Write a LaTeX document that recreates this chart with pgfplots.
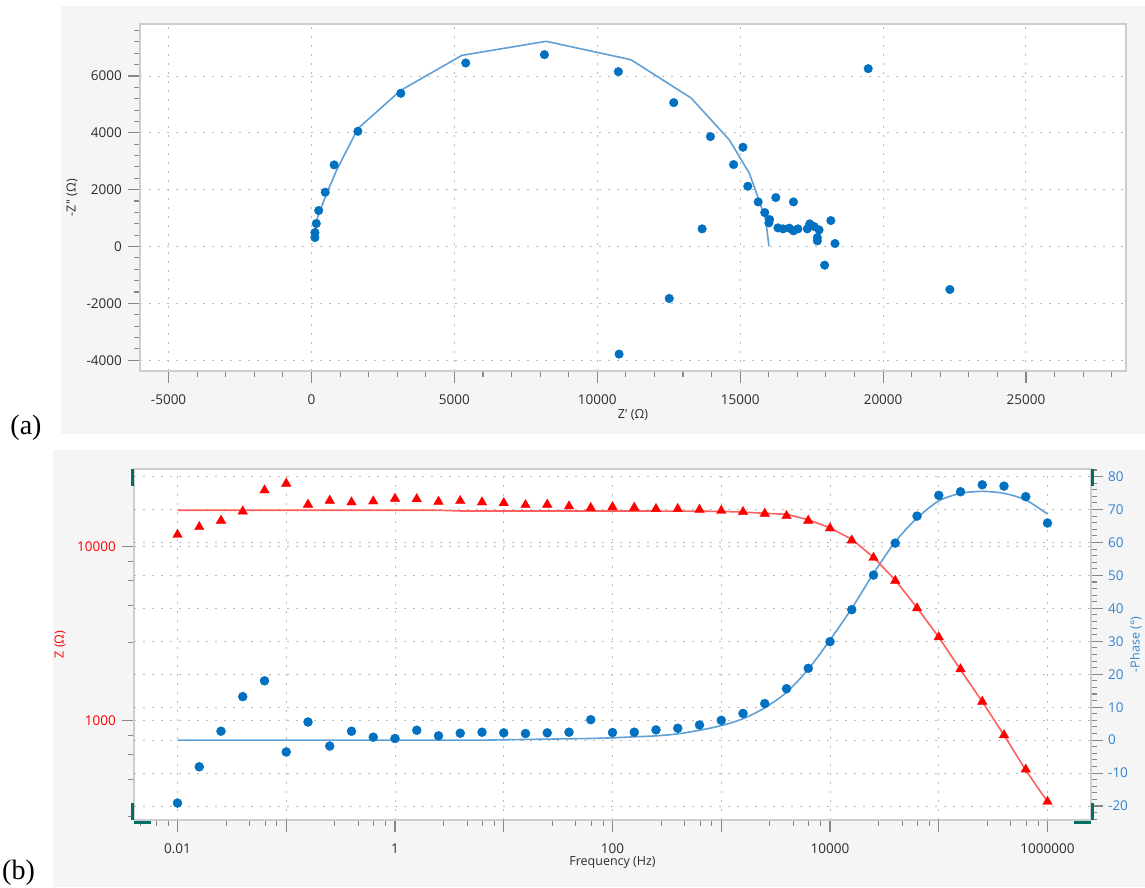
\documentclass[border=0pt]{standalone}
\usepackage{fontspec}
\setmainfont{Open Sans}
\newfontfamily\seriffont{Liberation Serif}
\usepackage{pgfplots}
\usepackage{pgfplotstable}
\pgfplotsset{compat=1.18}
\definecolor{bgGray}{RGB}{245,245,245}
\definecolor{frameGray}{RGB}{205,205,205}
\definecolor{tickGray}{RGB}{135,135,135}
\definecolor{gridGray}{RGB}{185,185,185}
\definecolor{txt}{RGB}{45,45,45}
\definecolor{ptBlue}{RGB}{0,112,192}
\definecolor{fitBlue}{RGB}{95,160,215}
\definecolor{zRed}{RGB}{255,0,0}
\definecolor{fitRed}{RGB}{255,95,95}
\definecolor{phBlue}{RGB}{50,132,210}
\definecolor{tealbar}{RGB}{0,112,100}

\pgfplotstableread{
f Z ph Zf phf
0.01 11720 -19.1 16200 0
0.015849 12980 -8.1 16200 0
0.025119 14130 2.7 16200 0
0.039811 15960 13.2 16200 0
0.063096 21100 18.0 16200 0
0.1 23060 -3.6 16200 0
0.15849 17460 5.5 16200 0
0.25119 18410 -1.8 16200 0
0.39811 18000 2.7 16200 0
0.63096 18240 0.9 16200 0
1 18890 0.5 16200 0
1.5849 18800 3.0 16200 0
2.5119 18150 1.3 16200 0
3.9811 18320 2.1 16050 0
6.3096 18000 2.4 16030 0
10 17830 2.2 16030 0.1
15.849 17370 2.0 16030 0.2
25.119 17460 2.2 16030 0.3
39.811 17070 2.4 16030 0.4
63.096 16700 6.2 16030 0.5
100 16910 2.3 16030 0.7
158.49 16780 2.4 16030 1.0
251.19 16490 3.1 16030 1.3
398.11 16490 3.6 16020 1.9
630.96 16330 4.6 16000 3.0
1000 16100 6.0 15950 4.4
1584.9 15840 8.1 15810 6.5
2511.9 15490 11.1 15560 9.8
3981.1 15020 15.6 15350 14.5
6309.6 14130 21.8 14290 21.5
10000 12760 29.9 12820 30.4
15849 10870 39.6 11040 40.0
25119 8640 50.1 8690 50.6
39811 6370 59.8 6430 60.2
63096 4430 68.0 4460 67.4
100000 3020 74.3 3020 72.6
158489 1977 75.4 1960 74.9
251189 1286 77.5 1286 75.5
398107 826 77.1 826 74.9
630957 524 73.9 519 72.9
1000000 342 65.9 342 68.6
}\datab

\pgfplotstableread{
x y
120 316
120 492
168 809
252 1266
481 1910
793 2872
1623 4055
3125 5391
5397 6458
8150 6751
10738 6153
12675 5063
13959 3868
14770 2883
15097 3493
15266 2121
15630 1570
15860 1195
16029 949
16005 832
16320 656
16247 1723
16500 621
16719 645
16864 551
16864 1570
17022 621
17349 621
17434 797
17590 703
17760 586
17700 316
17700 199
18172 914
18317 105
17954 -656
13668 621
12518 -1828
22337 -1512
10763 -3786
19480 6258
}\nyq

\pgfplotstableread{
x y
72 246
216 1043
517 1828
877 2684
1623 4149
3125 5497
5265 6727
8210 7220
11174 6575
13281 5227
14613 3762
15315 2590
15617 1746
15896 926
16005 12
}\nyqfit

\pgfplotsset{
  base/.style={
    scale only axis,
    scaled ticks=false,
    axis line style={frameGray, line width=1.4pt},
    tick style={tickGray, line width=1.1pt},
    major tick length=12pt, minor tick length=6pt,
    tick align=outside,
    grid style={gridGray, line width=1pt, dash pattern=on 2pt off 7pt},
    ticklabel style={font=\fontsize{13.5}{16}\selectfont, text=txt, inner sep=0pt},
    label style={font=\fontsize{12.5}{15}\selectfont, text=txt},
    xticklabel shift=12pt,
    yticklabel shift=6pt,
  }
}

\begin{document}
\begin{tikzpicture}[x=1pt,y=1pt]
\useasboundingbox (0,0) rectangle (1145,887);
\fill[bgGray] (60.7,452.7) rectangle (1145,881);
\fill[bgGray] (53.3,0) rectangle (1145,437);
\node[font=\seriffont\fontsize{28}{30}\selectfont] at (26,459.5) {(a)};
\node[font=\seriffont\fontsize{28}{30}\selectfont] at (18.5,14.5) {(b)};

% ---------- panel (a) ----------
\begin{axis}[base,
  at={(140pt,516pt)}, anchor=south west, width=986pt, height=347pt,
  axis background/.style={fill=white},
  xmin=-6000, xmax=28500, ymin=-4380, ymax=7830,
  xtick={-5000,0,5000,10000,15000,20000,25000},
  xticklabels={-5000,0,5000,10000,15000,20000,25000},
  minor xtick={-5000,-4000,...,28000},
  ytick={-4000,-2000,0,2000,4000,6000},
  yticklabels={-4000,-2000,0,2000,4000,6000},
  minor ytick={-4000,-3600,...,7600},
  xtick pos=bottom, ytick pos=left,
  xmajorgrids, ymajorgrids,
  xlabel={Z\textquotesingle\ (Ω)},
  ylabel={-Z\textquotesingle\textquotesingle\ (Ω)},
  xlabel style={at={(axis description cs:0.5,-0.1268)}, anchor=center},
  ylabel style={at={(axis description cs:-0.069,0.5)}, anchor=center},
]
\addplot[fitBlue, line width=1.6pt, no marks] table[x=x,y=y] {\nyqfit};
\addplot[only marks, mark=*, mark size=4.3pt, mark options={fill=ptBlue, draw=ptBlue}] table[x=x,y=y] {\nyq};
\end{axis}

% ---------- panel (b): Z axis with frame & grid ----------
\begin{axis}[base,
  at={(134pt,67pt)}, anchor=south west, width=957pt, height=351pt,
  axis background/.style={fill=white},
  xmode=log, ymode=log,
  xmin=0.0039811, xmax=2511886, ymin=268.5, ymax=27970,
  xtick={0.01,1,100,10000,1000000},
  xticklabels={0.01,1,100,10000,1000000},
  extra x ticks={0.1,10,1000,100000},
  extra x tick labels={},
  extra x tick style={grid=major},
  minor xtick={0.0046,0.0064,0.0082,0.028,0.046,0.064,0.082,0.28,0.46,0.64,0.82,2.8,4.6,6.4,8.2,28,46,64,82,280,460,640,820,2800,4600,6400,8200,28000,46000,64000,82000,280000,460000,640000,820000},
  ytick={1000,10000}, yticklabels={1000,10000},
  minor ytick={280,460,640,820,2800,4600,6400,8200},
  xtick pos=bottom, ytick pos=left,
  xmajorgrids, ymajorgrids,
  yticklabel style={text=zRed},
  xlabel={Frequency (Hz)},
  ylabel={Z (Ω)},
  xlabel style={at={(axis description cs:0.5,-0.1225)}, anchor=center},
  ylabel style={at={(axis description cs:-0.0773,0.5)}, anchor=center, text=zRed},
]
\end{axis}

% ---------- panel (b): phase axis ----------
\begin{axis}[base,
  at={(134pt,67pt)}, anchor=south west, width=957pt, height=351pt,
  xmode=log,
  xmin=0.0039811, xmax=2511886, ymin=-24.25, ymax=82.3,
  axis x line=none, axis y line*=right,
  ytick={-20,-10,...,80},
  yticklabels={-20,-10,0,10,20,30,40,50,60,70,80},
  minor ytick={-24,-22,...,82},
  ymajorgrids,
  yticklabel shift=5pt,
  yticklabel style={text=phBlue},
  ylabel={-Phase (°)},
  ylabel style={at={(axis description cs:1.0469,0.5)}, anchor=center, text=phBlue, rotate=0},
]
\addplot[fitBlue, line width=1.6pt, no marks, smooth] table[x=f,y=phf] {\datab};
\addplot[only marks, mark=*, mark size=4.5pt, mark options={fill=ptBlue, draw=ptBlue}] table[x=f,y=ph] {\datab};
\end{axis}

% ---------- panel (b): Z data overlay ----------
\begin{axis}[
  scale only axis, hide axis,
  at={(134pt,67pt)}, anchor=south west, width=957pt, height=351pt,
  xmode=log, ymode=log,
  xmin=0.0039811, xmax=2511886, ymin=268.5, ymax=27970,
]
\addplot[fitRed, line width=1.6pt, no marks] table[x=f,y=Zf] {\datab};
\addplot[only marks, mark=triangle*, mark size=5.5pt, mark options={fill=zRed, draw=zRed}] table[x=f,y=Z] {\datab};
\end{axis}

% teal scroll handles
\draw[tealbar, line width=3pt] (132.4,418) -- (132.4,401);
\draw[tealbar, line width=3pt] (132.4,84) -- (132.4,67);
\draw[tealbar, line width=3pt] (134,64.5) -- (151,64.5);
\draw[tealbar, line width=3pt] (1092.8,418) -- (1092.8,401);
\draw[tealbar, line width=3pt] (1092.8,84) -- (1092.8,67);
\draw[tealbar, line width=3pt] (1074,64.7) -- (1091,64.7);
\end{tikzpicture}
\end{document}
